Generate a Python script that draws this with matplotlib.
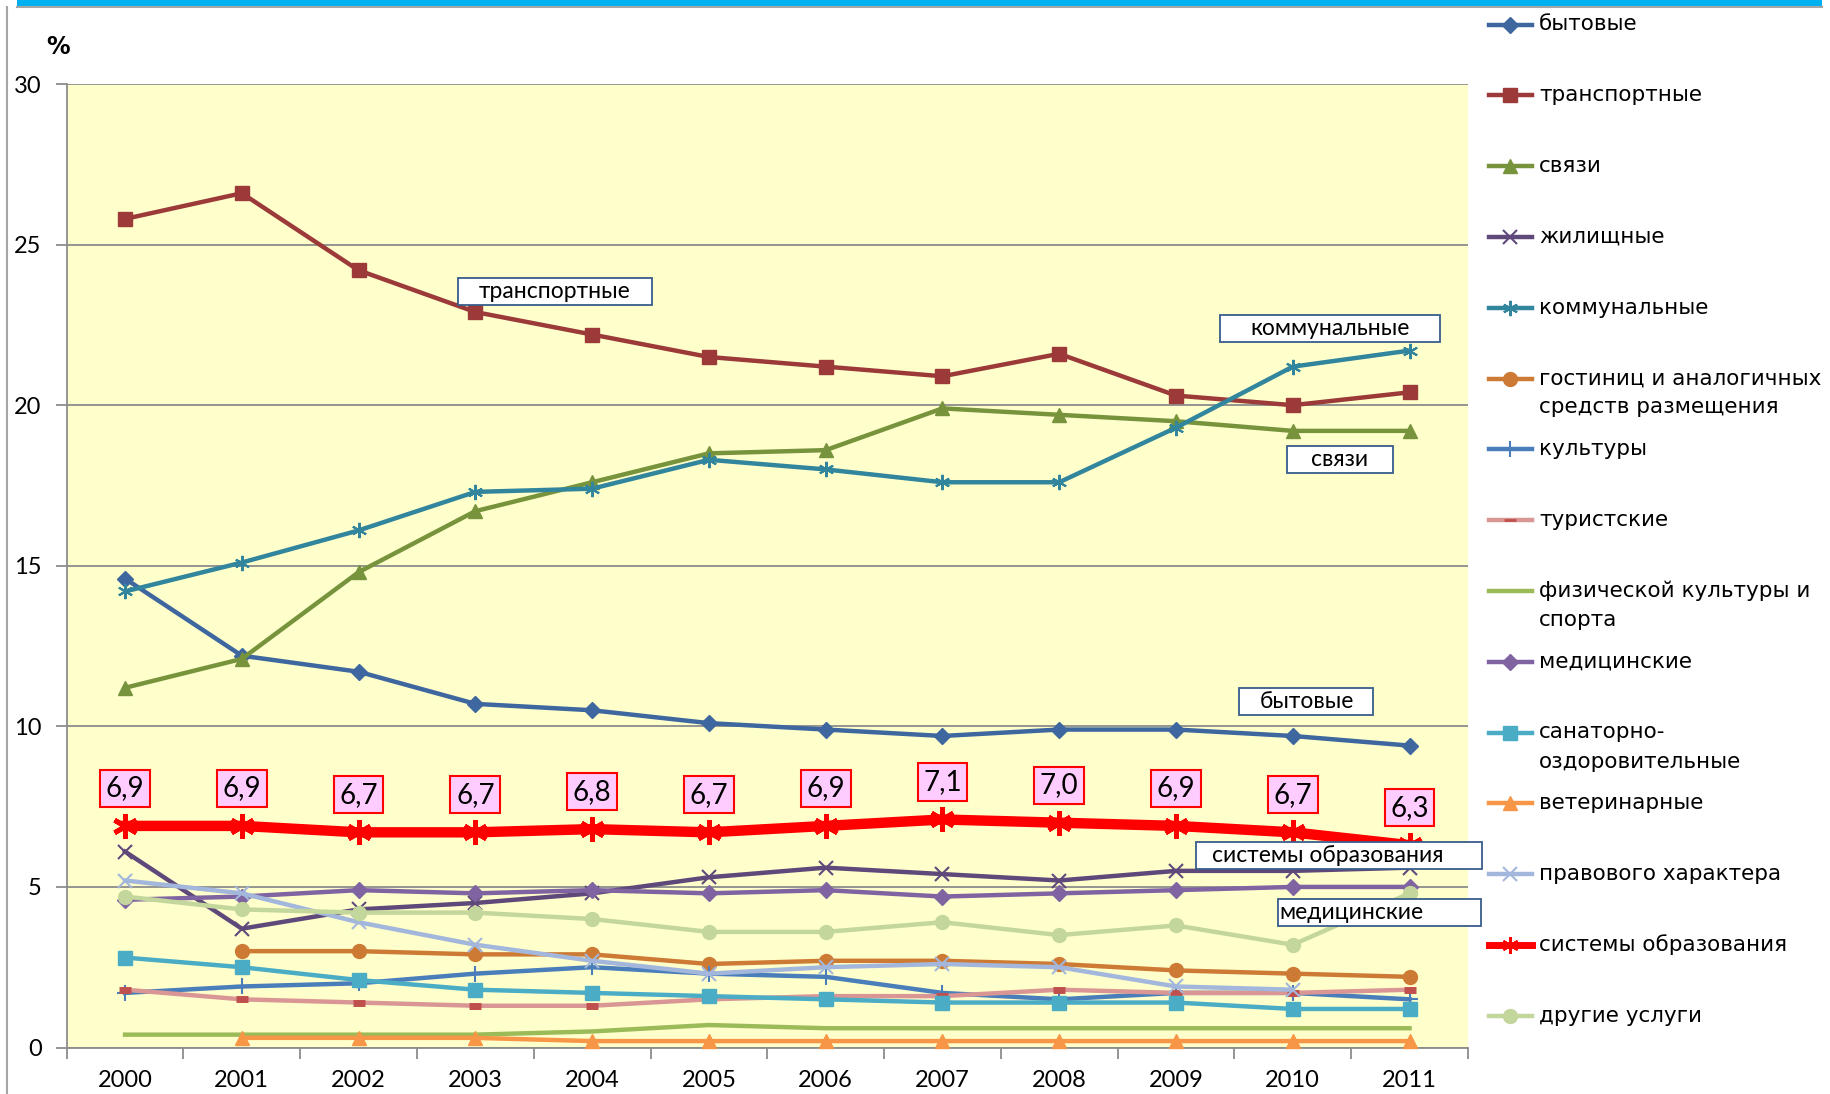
import matplotlib
matplotlib.use("Agg")
import matplotlib.pyplot as plt
from matplotlib.lines import Line2D
from matplotlib.patches import Rectangle

# --- data (%) ---
years = ["2000", "2001", "2002", "2003", "2004", "2005",
         "2006", "2007", "2008", "2009", "2010", "2011"]

bytovye = [14.6, 12.2, 11.7, 10.7, 10.5, 10.1, 9.9, 9.7, 9.9, 9.9, 9.7, 9.4]
transportnye = [25.8, 26.6, 24.2, 22.9, 22.2, 21.5, 21.2, 20.9, 21.6, 20.3, 20.0, 20.4]
svyazi = [11.2, 12.1, 14.8, 16.7, 17.6, 18.5, 18.6, 19.9, 19.7, 19.5, 19.2, 19.2]
zhilischnye = [6.1, 3.7, 4.3, 4.5, 4.8, 5.3, 5.6, 5.4, 5.2, 5.5, 5.5, 5.6]
kommunalnye = [14.2, 15.1, 16.1, 17.3, 17.4, 18.3, 18.0, 17.6, 17.6, 19.3, 21.2, 21.7]
gostinits = [None, 3.0, 3.0, 2.9, 2.9, 2.6, 2.7, 2.7, 2.6, 2.4, 2.3, 2.2]
kultury = [1.7, 1.9, 2.0, 2.3, 2.5, 2.3, 2.2, 1.7, 1.5, 1.7, 1.7, 1.5]
turistskie = [1.8, 1.5, 1.4, 1.3, 1.3, 1.5, 1.6, 1.6, 1.8, 1.7, 1.7, 1.8]
sport = [0.4, 0.4, 0.4, 0.4, 0.5, 0.7, 0.6, 0.6, 0.6, 0.6, 0.6, 0.6]
meditsinskie = [4.6, 4.7, 4.9, 4.8, 4.9, 4.8, 4.9, 4.7, 4.8, 4.9, 5.0, 5.0]
sanatornye = [2.8, 2.5, 2.1, 1.8, 1.7, 1.6, 1.5, 1.4, 1.4, 1.4, 1.2, 1.2]
veterinarnye = [None, 0.3, 0.3, 0.3, 0.2, 0.2, 0.2, 0.2, 0.2, 0.2, 0.2, 0.2]
pravovye = [5.2, 4.8, 3.9, 3.2, 2.7, 2.3, 2.5, 2.6, 2.5, 1.9, 1.8, None]
obrazovanie = [6.9, 6.9, 6.7, 6.7, 6.8, 6.7, 6.9, 7.1, 7.0, 6.9, 6.7, 6.3]
drugie = [4.7, 4.3, 4.2, 4.2, 4.0, 3.6, 3.6, 3.9, 3.5, 3.8, 3.2, 4.8]

ASTER = (6, 2, 0)

# label, values, style
series = [
    ("бытовые", bytovye, dict(color="#3E67A0", marker="D", ms=8, lw=3.2)),
    ("транспортные", transportnye, dict(color="#9B3A38", marker="s", ms=10, lw=3.2)),
    ("связи", svyazi, dict(color="#77933C", marker="^", ms=10, lw=3.2)),
    ("жилищные", zhilischnye, dict(color="#5F497A", marker="x", ms=10, mew=1.5, lw=3.2)),
    ("коммунальные", kommunalnye, dict(color="#31859C", marker=ASTER, ms=11, mew=1.5, lw=3.2)),
    ("гостиниц и аналогичных\nсредств размещения", gostinits, dict(color="#CD7A35", marker="o", ms=10, lw=3.2)),
    ("культуры", kultury, dict(color="#4A7EBB", marker="+", ms=11, mew=1.5, lw=3.2)),
    ("туристские", turistskie, dict(color="#D99694", marker="_", ms=8, mew=5, mec="#C0504D", lw=3.2)),
    ("физической культуры и\nспорта", sport, dict(color="#9BBB59", marker="", lw=3.2)),
    ("медицинские", meditsinskie, dict(color="#8064A2", marker="D", ms=8, lw=3.2)),
    ("санаторно-\nоздоровительные", sanatornye, dict(color="#4BACC6", marker="s", ms=10, lw=3.2)),
    ("ветеринарные", veterinarnye, dict(color="#F79646", marker="^", ms=10, lw=3.2)),
    ("правового характера", pravovye, dict(color="#A3B7DC", marker="x", ms=10, mew=1.5, lw=3.2)),
    ("системы образования", obrazovanie, dict(color="#FF0000", marker=ASTER, ms=18, mew=3.5, lw=7.5)),
    ("другие услуги", drugie, dict(color="#C3D69B", marker="o", ms=10, lw=3.2)),
]

fig = plt.figure(figsize=(18.31, 10.94), dpi=100)
fig.patch.set_facecolor("white")
ax = fig.add_axes([0.0364, 0.0425, 0.7653, 0.8807])
ax.set_facecolor("#FFFFCC")

x = list(range(len(years)))
for label, vals, st in series:
    pts = [(i, v) for i, v in zip(x, vals) if v is not None]
    xs = [p[0] for p in pts]
    ys = [p[1] for p in pts]
    st = dict(st)
    mec = st.pop("mec", st["color"])
    ax.plot(xs, ys, color=st["color"], lw=st["lw"], marker=st["marker"],
            markersize=st.get("ms", 0), markeredgewidth=st.get("mew", 1),
            markerfacecolor=st["color"], markeredgecolor=mec,
            solid_joinstyle="round", clip_on=False, zorder=3)

# data labels for education
for i, v in enumerate(obrazovanie):
    ax.annotate(f"{v:.1f}".replace(".", ","), (i, v), xytext=(0, 27),
                textcoords="offset points", ha="center", va="center",
                fontsize=20, family="Lato", zorder=6,
                bbox=dict(boxstyle="square,pad=0.2", fc="#FFCCFF", ec="#FF0000", lw=1.5))

# callout boxes
callouts = [
    ("транспортные", 2.85, 4.51, 23.55, 3.68),
    ("коммунальные", 9.38, 11.26, 22.38, 10.32),
    ("связи", 9.95, 10.86, 18.31, 10.4),
    ("бытовые", 9.54, 10.69, 10.76, 10.12),
    ("системы образования", 9.17, 11.62, 5.98, 10.3),
    ("медицинские", 9.87, 11.61, 4.2, 10.5),
]
for txt, x0, x1, yc, xt in callouts:
    ax.add_patch(Rectangle((x0, yc - 0.42), x1 - x0, 0.84, fc="white",
                           ec="#385D8A", lw=1.3, clip_on=False, zorder=7))
    ax.text(xt, yc, txt, ha="center", va="center", fontsize=16.5,
            family="Lato", zorder=8, clip_on=False)

# axes
ax.set_xlim(-0.5, len(years) - 0.5)
ax.set_ylim(0, 30)
ax.set_yticks(range(0, 31, 5))
ax.yaxis.grid(True, color="#8C8C8C", lw=1.3)
ax.set_axisbelow(True)
ax.set_xticks(x)
ax.set_xticklabels(years)
ax.set_xticks([i - 0.5 for i in range(len(years) + 1)], minor=True)
ax.tick_params(axis="x", which="major", length=0, pad=16, labelsize=17)
ax.tick_params(axis="x", which="minor", length=8, width=1.3, color="#8C8C8C", direction="out")
ax.tick_params(axis="y", length=8, width=1.3, color="#8C8C8C", pad=10, labelsize=17)
for lab in ax.get_xticklabels() + ax.get_yticklabels():
    lab.set_family("Lato")
for s in ["top", "right"]:
    ax.spines[s].set_visible(False)
for s in ["left", "bottom"]:
    ax.spines[s].set_color("#8C8C8C")
    ax.spines[s].set_linewidth(1.3)

fig.text(58 / 1831, 1 - 47 / 1094, "%", fontsize=17, fontweight="bold",
         ha="center", va="center")

# legend drawn at the right
W, H = 1831, 1094
for k, (label, vals, st) in enumerate(series):
    yy = 24.5 + k * 70.8
    st = dict(st)
    mec = st.pop("mec", st["color"])
    fig.add_artist(Line2D([1489 / W, 1532 / W], [1 - yy / H, 1 - yy / H],
                          color=st["color"], lw=min(st["lw"], 5)))
    if st["marker"]:
        fig.add_artist(Line2D([1510 / W], [1 - yy / H], marker=st["marker"],
                              markersize=min(st.get("ms", 0), 12),
                              markeredgewidth=min(st.get("mew", 1), 2),
                              color=st["color"], markerfacecolor=st["color"],
                              markeredgecolor=mec, lw=0))
    for j, line in enumerate(label.split("\n")):
        fig.text(1539 / W, 1 - (yy + j * 29) / H, line, fontsize=15.5,
                 ha="left", va="center")

# frame decoration (top cyan bar, left border)
fig.add_artist(Rectangle((17 / W, 1 - 6 / H), 1805 / W, 6 / H, transform=fig.transFigure,
                         fc="#00B0F0", ec="none"))
fig.add_artist(Line2D([17 / W, 1822 / W], [1 - 7 / H, 1 - 7 / H], color="#A6A6A6", lw=1.5))
fig.add_artist(Line2D([7 / W, 7 / W], [0, 1 - 7 / H], color="#A6A6A6", lw=1.5))

fig.savefig("out.png", dpi=100)
